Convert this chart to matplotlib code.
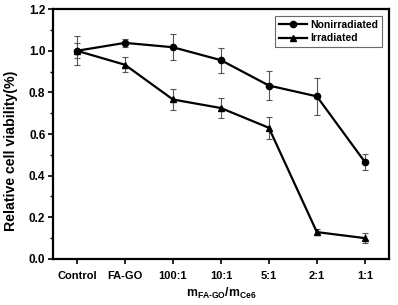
import matplotlib.pyplot as plt
import numpy as np
from matplotlib.ticker import MultipleLocator

plt.rcParams['font.family'] = ['Liberation Sans', 'DejaVu Sans']
plt.rcParams['font.weight'] = 'bold'
plt.rcParams['mathtext.fontset'] = 'custom'
plt.rcParams['mathtext.bf'] = 'Liberation Sans:bold'
plt.rcParams['mathtext.rm'] = 'Liberation Sans:bold'

groups = ['Control', 'FA-GO', '100:1', '10:1', '5:1', '2:1', '1:1']
nonirr = [1.00, 1.038, 1.017, 0.955, 0.833, 0.781, 0.466]
nonirr_err = [0.07, 0.02, 0.063, 0.06, 0.07, 0.09, 0.037]
irr = [1.00, 0.933, 0.766, 0.725, 0.630, 0.129, 0.100]
irr_err = [0.035, 0.035, 0.05, 0.048, 0.053, 0.015, 0.024]

x = np.arange(len(groups))

fig = plt.figure(figsize=(3.98, 3.05), dpi=100)
ax = fig.add_axes([0.133, 0.151, 0.844, 0.819])

ax.errorbar(x, nonirr, yerr=nonirr_err, fmt='none', ecolor='#555555',
            elinewidth=0.8, capsize=2.5, capthick=0.8, zorder=2)
ax.errorbar(x, irr, yerr=irr_err, fmt='none', ecolor='#555555',
            elinewidth=0.8, capsize=2.5, capthick=0.8, zorder=2)
ax.plot(x, nonirr, '-o', color='black', lw=1.6, ms=4.5, label='Nonirradiated', zorder=3)
ax.plot(x, irr, '-^', color='black', lw=1.6, ms=4.5, label='Irradiated', zorder=3)

ax.set_xlim(-0.5, 6.5)
ax.set_ylim(0, 1.2)
ax.set_xticks(x)
ax.set_xticklabels(groups)
ax.yaxis.set_minor_locator(MultipleLocator(0.1))
ax.set_yticks(np.arange(0, 1.21, 0.2))
ax.set_yticklabels(['%.1f' % v for v in np.arange(0, 1.21, 0.2)])

for s in ax.spines.values():
    s.set_linewidth(1.6)
ax.tick_params(axis='both', which='major', width=1.2, length=3.5, direction='out')
ax.tick_params(axis='x', labelsize=8, pad=5)
ax.tick_params(axis='y', labelsize=8.5, pad=2)
ax.tick_params(axis='y', which='minor', width=1.0, length=2, direction='out')

ax.set_ylabel('Relative cell viability(%)', fontsize=10.2, fontweight='bold')
ax.yaxis.set_label_coords(-0.105, 0.432)
ax.set_xlabel(r'$\mathbf{m}_{\mathbf{FA\text{-}GO}}\mathbf{/m}_{\mathbf{Ce6}}$',
              fontsize=8.8, labelpad=4)

leg = ax.legend(loc='upper right', fontsize=7.5, frameon=True, fancybox=False,
                handlelength=2.7, borderpad=0.35, labelspacing=0.3,
                borderaxespad=0.7, handletextpad=0.3)
leg.get_frame().set_edgecolor('#444444')
leg.get_frame().set_linewidth(0.8)

fig.savefig('out.png', dpi=100)
